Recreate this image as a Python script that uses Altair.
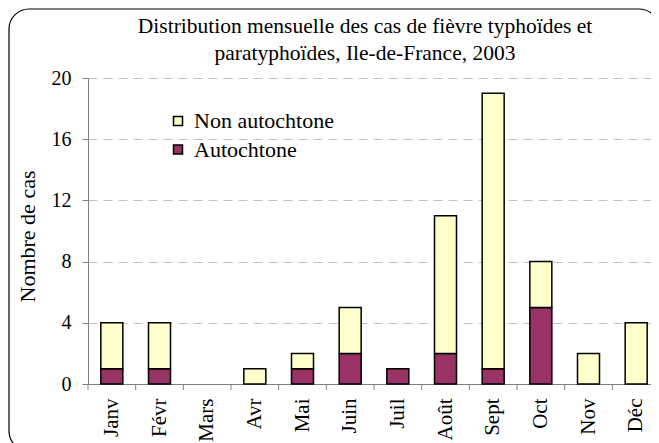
import altair as alt
import pandas as pd

months = ["Janv", "Févr", "Mars", "Avr", "Mai", "Juin", "Juil", "Août", "Sept", "Oct", "Nov", "Déc"]
autochtone = [1, 1, 0, 0, 1, 2, 1, 2, 1, 5, 0, 0]
non_autochtone = [3, 3, 0, 1, 1, 3, 0, 9, 18, 3, 2, 4]
series = ["Non autochtone", "Autochtone"]
colors = ["#FFFFCC", "#993366"]
y_ticks = [0, 4, 8, 12, 16, 20]
title_line1 = "Distribution mensuelle des cas de fièvre typhoïdes et"
title_line2 = "paratyphoïdes, Ile-de-France, 2003"
y_title = "Nombre de cas"

rows = []
for m, a, n in zip(months, autochtone, non_autochtone):
    rows.append({"mois": m, "type": "Autochtone", "cas": a, "ordre": 0})
    rows.append({"mois": m, "type": "Non autochtone", "cas": n, "ordre": 1})
df = pd.DataFrame(rows)
ticks_df = pd.DataFrame({"mois": months})
one_df = pd.DataFrame({"k": [0]})

W, H = 563, 306          # visible plot area (svg is clipped at the window edge)
BAND_RANGE = 572          # the original axis runs past the picture's right edge
FONT = "Liberation Serif, Times New Roman, DejaVu Serif, serif"
GREY = "#808080"

xscale = alt.Scale(domain=months, range=[0, BAND_RANGE], paddingInner=0, paddingOuter=0)
xaxis = alt.Axis(title=None, labelAngle=270, labelFont=FONT, labelFontSize=21,
                 labelColor="black", ticks=False, domain=True, domainColor=GREY,
                 labelPadding=14, labelAlign="right", labelBaseline="middle",
                 grid=False)
yaxis = alt.Axis(values=y_ticks, title=y_title, titleFont=FONT, titleFontSize=22,
                 titleFontWeight="normal", titleColor="black", titleAngle=270,
                 titleX=-61, titleY=158, titleBaseline="middle", titleAlign="center",
                 labelFont=FONT, labelFontSize=20, labelColor="black", labelPadding=11,
                 tickSize=6, tickColor=GREY, domainColor=GREY,
                 grid=True, gridDash=[9, 6], gridColor="#c0c0c0")

frame = alt.Chart(one_df).mark_rect(
    fillOpacity=0, stroke="black", strokeWidth=1.2, cornerRadius=20
).encode(
    x=alt.value(-79), x2=alt.value(W + 8), y=alt.value(-69), y2=alt.value(H + 67)
)

bars = alt.Chart(df).transform_filter("datum.cas > 0").mark_bar(
    size=22, stroke="black", strokeWidth=1.5
).encode(
    x=alt.X("mois:N", sort=months, scale=xscale, axis=xaxis),
    y=alt.Y("cas:Q", stack="zero", scale=alt.Scale(domain=[0, 20], nice=False), axis=yaxis),
    color=alt.Color("type:N", scale=alt.Scale(domain=series, range=colors),
                    legend=alt.Legend(title=None, orient="none", legendX=79, legendY=32,
                                      direction="vertical", symbolType="square",
                                      symbolSize=81, symbolStrokeColor="black",
                                      symbolStrokeWidth=1.5, labelFont=FONT,
                                      labelFontSize=22, labelColor="black",
                                      labelOffset=5, rowPadding=6.5, padding=0)),
    order=alt.Order("ordre:Q", sort="ascending"),
)

ticks = alt.Chart(ticks_df).mark_rule(color=GREY, strokeWidth=1).encode(
    x=alt.X("mois:N", sort=months, scale=xscale, axis=xaxis, bandPosition=0),
    y=alt.value(H), y2=alt.value(H + 6),
)

TITLE_X = BAND_RANGE / 2 - 9
t1 = alt.Chart(one_df).mark_text(font=FONT, fontSize=21.5, color="black",
                                 align="center", baseline="alphabetic",
                                 text=title_line1).encode(
    x=alt.value(TITLE_X), y=alt.value(-45))
t2 = alt.Chart(one_df).mark_text(font=FONT, fontSize=21.5, color="black",
                                 align="center", baseline="alphabetic",
                                 text=title_line2).encode(
    x=alt.value(TITLE_X), y=alt.value(-18))

chart = alt.layer(frame, bars, ticks, t1, t2).properties(
    width=W, height=H,
    autosize=alt.AutoSizeParams(type="none"),
    padding={"left": 80, "top": 70, "right": 0, "bottom": 59},
).configure_view(strokeWidth=0)

chart.save("out.html", embed_options={"renderer": "svg", "actions": False})
